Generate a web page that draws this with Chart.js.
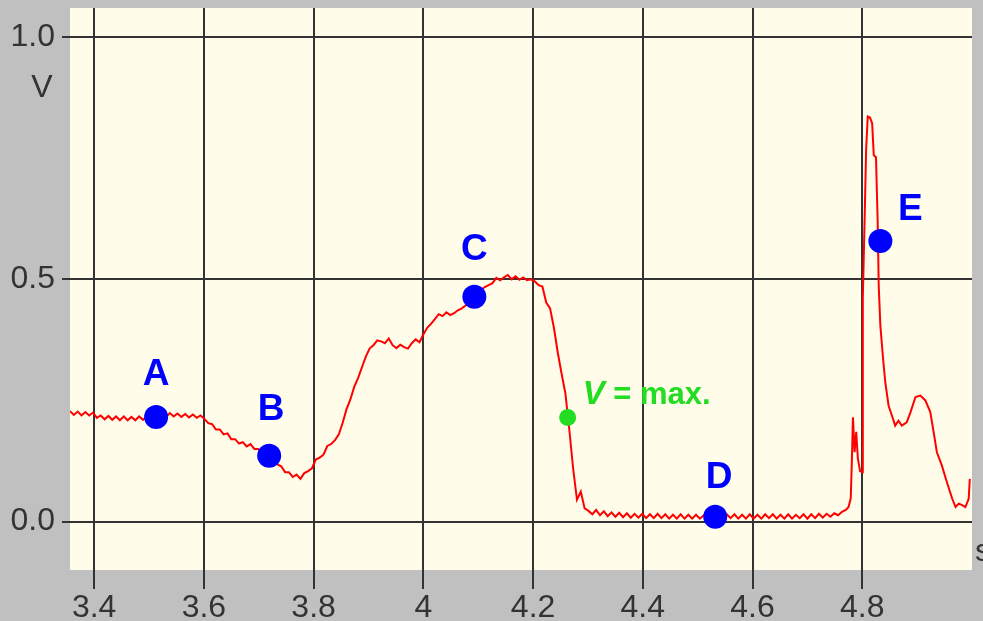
<!DOCTYPE html>
<html>
<head>
<meta charset="utf-8">
<script src="https://cdn.jsdelivr.net/npm/chart.js@4.4.1/dist/chart.umd.min.js"></script>
<style>
    html, body { margin: 0; padding: 0; background: #c0c0c0; }
    canvas { display: block; }
</style>
</head>
<body>
<canvas id="volt-chart" width="983" height="621"></canvas>
<script>
// measured trace: time (s) and voltage (V)
const timeS = [
    3.356, 3.363, 3.370, 3.377, 3.384, 3.391, 3.398, 3.405, 3.412, 3.419,
    3.426, 3.433, 3.440, 3.447, 3.454, 3.461, 3.468, 3.475, 3.482, 3.489,
    3.496, 3.503, 3.510, 3.517, 3.524, 3.531, 3.538, 3.545, 3.552, 3.559,
    3.566, 3.573, 3.580, 3.587, 3.594, 3.601, 3.608, 3.615, 3.622, 3.629,
    3.636, 3.643, 3.650, 3.657, 3.664, 3.671, 3.678, 3.685, 3.692, 3.699,
    3.706, 3.713, 3.720, 3.727, 3.734, 3.741, 3.748, 3.755, 3.762, 3.769,
    3.776, 3.783, 3.790, 3.797, 3.804, 3.811, 3.818, 3.825, 3.832, 3.839,
    3.846, 3.853, 3.860, 3.867, 3.874, 3.881, 3.888, 3.895, 3.902, 3.909,
    3.916, 3.923, 3.930, 3.937, 3.944, 3.951, 3.958, 3.965, 3.972, 3.979,
    3.986, 3.993, 4.000, 4.007, 4.014, 4.021, 4.028, 4.035, 4.042, 4.049,
    4.056, 4.063, 4.070, 4.077, 4.084, 4.091, 4.098, 4.105, 4.112, 4.119,
    4.126, 4.133, 4.140, 4.147, 4.154, 4.161, 4.168, 4.175, 4.182, 4.189,
    4.196, 4.203, 4.210, 4.217, 4.224, 4.231, 4.238, 4.245, 4.252, 4.259,
    4.266, 4.273, 4.280, 4.287, 4.294, 4.301, 4.308, 4.315, 4.322, 4.329,
    4.336, 4.343, 4.350, 4.357, 4.364, 4.371, 4.378, 4.385, 4.392, 4.399,
    4.406, 4.413, 4.420, 4.427, 4.434, 4.441, 4.448, 4.455, 4.462, 4.469,
    4.476, 4.483, 4.490, 4.497, 4.504, 4.511, 4.518, 4.525, 4.532, 4.539,
    4.546, 4.553, 4.560, 4.567, 4.574, 4.581, 4.588, 4.595, 4.602, 4.609,
    4.616, 4.623, 4.630, 4.637, 4.644, 4.651, 4.658, 4.665, 4.672, 4.679,
    4.686, 4.693, 4.700, 4.707, 4.714, 4.721, 4.728, 4.735, 4.742, 4.749,
    4.756, 4.763, 4.770, 4.775, 4.779, 4.781, 4.783, 4.786, 4.789, 4.792,
    4.796, 4.800, 4.801, 4.805, 4.807, 4.810, 4.814, 4.818, 4.821, 4.825,
    4.828, 4.830, 4.833, 4.838, 4.842, 4.848, 4.854, 4.860, 4.866, 4.872,
    4.881, 4.888, 4.897, 4.906, 4.915, 4.924, 4.930, 4.936, 4.945, 4.954,
    4.964, 4.970, 4.976, 4.982, 4.988, 4.994, 4.996
];
const voltV = [
    0.228, 0.220, 0.227, 0.219, 0.226, 0.219, 0.225, 0.214, 0.219, 0.211,
    0.218, 0.210, 0.217, 0.209, 0.217, 0.209, 0.216, 0.209, 0.217, 0.210,
    0.217, 0.211, 0.216, 0.214, 0.218, 0.216, 0.224, 0.217, 0.223, 0.216,
    0.222, 0.215, 0.221, 0.214, 0.219, 0.212, 0.203, 0.201, 0.190, 0.190,
    0.180, 0.182, 0.170, 0.170, 0.161, 0.164, 0.155, 0.160, 0.150, 0.150,
    0.141, 0.140, 0.134, 0.128, 0.118, 0.114, 0.102, 0.102, 0.092, 0.097,
    0.088, 0.100, 0.104, 0.110, 0.128, 0.132, 0.138, 0.156, 0.160, 0.168,
    0.180, 0.204, 0.232, 0.252, 0.278, 0.296, 0.318, 0.340, 0.357, 0.364,
    0.374, 0.372, 0.368, 0.378, 0.364, 0.358, 0.365, 0.360, 0.357, 0.368,
    0.376, 0.370, 0.386, 0.400, 0.408, 0.418, 0.428, 0.424, 0.432, 0.426,
    0.430, 0.436, 0.440, 0.446, 0.452, 0.462, 0.468, 0.478, 0.484, 0.488,
    0.492, 0.503, 0.498, 0.504, 0.509, 0.500, 0.506, 0.499, 0.504, 0.498,
    0.500, 0.496, 0.488, 0.485, 0.452, 0.440, 0.400, 0.349, 0.305, 0.264,
    0.190, 0.110, 0.045, 0.062, 0.027, 0.022, 0.015, 0.024, 0.013, 0.021,
    0.011, 0.019, 0.010, 0.018, 0.009, 0.017, 0.008, 0.016, 0.008, 0.016,
    0.007, 0.015, 0.007, 0.016, 0.007, 0.015, 0.006, 0.014, 0.006, 0.015,
    0.006, 0.014, 0.006, 0.014, 0.006, 0.013, 0.006, 0.012, 0.006, 0.013,
    0.006, 0.015, 0.007, 0.015, 0.006, 0.014, 0.006, 0.015, 0.006, 0.014,
    0.006, 0.015, 0.007, 0.015, 0.006, 0.014, 0.006, 0.015, 0.006, 0.014,
    0.007, 0.015, 0.006, 0.015, 0.007, 0.016, 0.008, 0.016, 0.010, 0.017,
    0.013, 0.020, 0.024, 0.030, 0.048, 0.123, 0.215, 0.143, 0.185, 0.130,
    0.104, 0.102, 0.460, 0.660, 0.767, 0.836, 0.834, 0.822, 0.756, 0.752,
    0.623, 0.486, 0.404, 0.335, 0.287, 0.239, 0.219, 0.198, 0.208, 0.198,
    0.205, 0.226, 0.257, 0.260, 0.250, 0.226, 0.185, 0.143, 0.116, 0.082,
    0.047, 0.030, 0.037, 0.034, 0.030, 0.047, 0.088
];

// marked points A-E
const markNames = ["A", "B", "C", "D", "E"];
const markTimes = [3.513, 3.719, 4.093, 4.532, 4.833];
const markVolts = [0.216, 0.136, 0.464, 0.010, 0.579];

// point of maximum speed
const vmaxTime = 4.263;
const vmaxVolt = 0.215;

// axis ticks
const xTicks = [3.4, 3.6, 3.8, 4.0, 4.2, 4.4, 4.6, 4.8];
const yTicks = [0.0, 0.5, 1.0];

const FONT = "'Liberation Sans', Arial, sans-serif";

// gray page + yellow plot area
const backgroundPlugin = {
    id: "plotBackground",
    beforeDraw(chart) {
        const { ctx, chartArea } = chart;
        ctx.save();
        ctx.fillStyle = "#c0c0c0";
        ctx.fillRect(0, 0, chart.width, chart.height);
        ctx.fillStyle = "#fffde9";
        ctx.fillRect(chartArea.left, chartArea.top, chartArea.right - chartArea.left, chartArea.bottom - chartArea.top);
        ctx.restore();
    },
};

// letters next to the points, unit labels
const labelPlugin = {
    id: "pointLabels",
    afterDatasetsDraw(chart) {
        const { ctx } = chart;
        const xs = chart.scales.x;
        const ys = chart.scales.y;
        const offsets = [[0, -43], [2, -47], [0, -48], [4, -40], [30, -32]];

        ctx.save();
        ctx.textAlign = "center";
        ctx.textBaseline = "middle";
        ctx.fillStyle = "#0000ff";
        ctx.font = "bold 37px " + FONT;
        markNames.forEach((name, i) => {
            const px = xs.getPixelForValue(markTimes[i]);
            const py = ys.getPixelForValue(markVolts[i]);
            ctx.fillText(name, px + offsets[i][0], py + offsets[i][1] + 1);
        });

        // "V = max." with italic V
        const gx = xs.getPixelForValue(vmaxTime) + 15;
        const gy = ys.getPixelForValue(vmaxVolt) - 22;
        ctx.fillStyle = "#22dd22";
        ctx.textAlign = "left";
        ctx.font = "italic bold 33px " + FONT;
        ctx.fillText("V", gx, gy);
        const vw = ctx.measureText("V").width;
        ctx.font = "bold 31px " + FONT;
        ctx.fillText(" = max.", gx + vw, gy);

        // axis units
        ctx.fillStyle = "#333";
        ctx.font = "32px " + FONT;
        ctx.textAlign = "center";
        ctx.fillText("V", 42, 88);
        ctx.textAlign = "left";
        ctx.fillText("s", 975, 552);
        ctx.restore();
    },
};

const ctx = document.getElementById("volt-chart");

new Chart(ctx, {
    type: "scatter",
    data: {
        datasets: [
            {
                label: "E",
                data: markTimes.map((t, i) => ({ x: t, y: markVolts[i] })),
                backgroundColor: "#0000ff",
                borderColor: "#0000ff",
                pointRadius: 12,
                pointBorderWidth: 0,
                order: 1,
            },
            {
                label: "Vmax",
                data: [{ x: vmaxTime, y: vmaxVolt }],
                backgroundColor: "#22dd22",
                borderColor: "#22dd22",
                pointRadius: 8.5,
                pointBorderWidth: 0,
                order: 1,
            },
            {
                label: "U",
                data: timeS.map((t, i) => ({ x: t, y: voltV[i] })),
                showLine: true,
                borderColor: "#ff0000",
                borderWidth: 2,
                pointRadius: 0,
                tension: 0,
                order: 2,
            },
        ],
    },
    options: {
        responsive: false,
        animation: false,
        layout: {
            autoPadding: false,
            padding: { top: 8, right: 11, left: 0, bottom: 0 },
        },
        plugins: {
            legend: { display: false },
            tooltip: { enabled: false },
        },
        scales: {
            x: {
                type: "linear",
                min: 3.356,
                max: 5.0,
                afterBuildTicks(axis) {
                    axis.ticks = xTicks.map((v) => ({ value: v }));
                },
                afterFit(axis) {
                    axis.height = 51;
                    axis.paddingLeft = 0;
                    axis.paddingRight = 0;
                },
                grid: {
                    color: "#333",
                    lineWidth: 2,
                    tickLength: 19,
                },
                border: { display: false },
                ticks: {
                    color: "#333",
                    padding: 0,
                    maxRotation: 0,
                    autoSkip: false,
                    font: { family: FONT, size: 32 },
                    callback: (v) => String(Number(v.toFixed(1))),
                },
            },
            y: {
                type: "linear",
                min: -0.1,
                max: 1.06,
                afterBuildTicks(axis) {
                    axis.ticks = yTicks.map((v) => ({ value: v }));
                },
                afterFit(axis) {
                    axis.width = 70;
                    axis.paddingTop = 0;
                    axis.paddingBottom = 0;
                },
                grid: {
                    color: "#333",
                    lineWidth: 2,
                    tickLength: 8,
                },
                border: { display: false },
                ticks: {
                    color: "#333",
                    padding: 7,
                    font: { family: FONT, size: 32 },
                    callback: (v) => v.toFixed(1),
                },
            },
        },
    },
    plugins: [backgroundPlugin, labelPlugin],
});
</script>
</body>
</html>
